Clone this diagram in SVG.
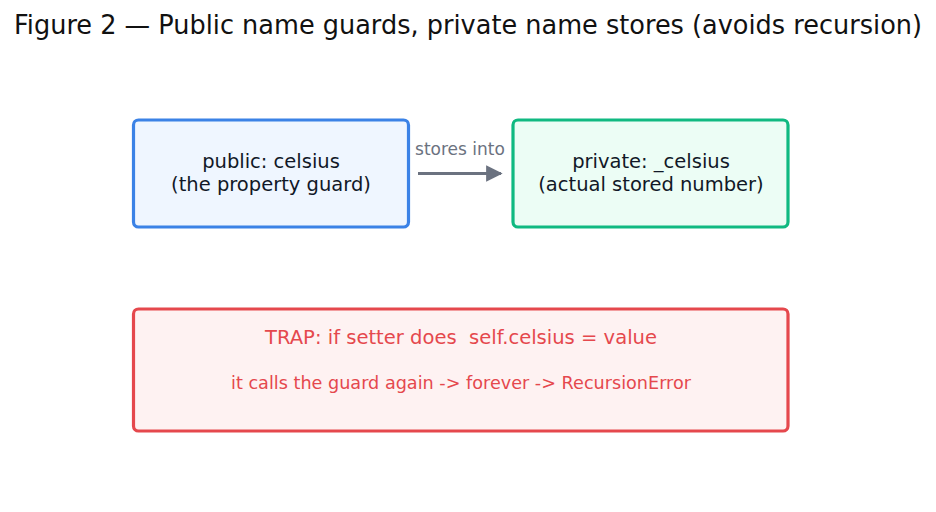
<svg xmlns="http://www.w3.org/2000/svg" width="936" height="512" viewBox="0 0 936 512">
<defs>
<style>
.t{font-family:"DejaVu Sans","Liberation Sans",sans-serif;}
.lbl{font-size:19.5px;fill:#111827;text-anchor:middle;}
.trap{fill:#e5484d;text-anchor:middle;white-space:pre;}
</style>
<marker id="ah" viewBox="0 0 10 10" refX="9" refY="5" markerWidth="5.5" markerHeight="5.5" orient="auto" markerUnits="strokeWidth">
<path d="M0,0 L10,5 L0,10 z" fill="#6b7280"/>
</marker>
</defs>
<rect width="936" height="512" fill="#ffffff"/>
<text class="t" x="468" y="34" font-size="26" fill="#111111" text-anchor="middle" textLength="908" lengthAdjust="spacingAndGlyphs">Figure 2 — Public name guards, private name stores (avoids recursion)</text>
<g id="public">
<rect x="133.5" y="120" width="275" height="107" rx="5" fill="#eff6ff" stroke="#3b82e6" stroke-width="3.2"/>
<text class="t lbl" x="271" y="168">public: celsius</text>
<text class="t lbl" x="271" y="191">(the property guard)</text>
</g>
<g id="private">
<rect x="513" y="120" width="275" height="107" rx="5" fill="#ecfdf5" stroke="#10b981" stroke-width="3.2"/>
<text class="t lbl" x="651" y="168">private: _celsius</text>
<text class="t lbl" x="651" y="191">(actual stored number)</text>
</g>
<g id="trap">
<rect x="133.5" y="309" width="654.5" height="122" rx="5" fill="#fef2f2" stroke="#e5484d" stroke-width="3.2"/>
<text class="t trap" x="461" y="344" font-size="19.5" textLength="392" lengthAdjust="spacingAndGlyphs" xml:space="preserve">TRAP: if setter does  self.celsius = value</text>
<text class="t trap" x="461" y="389" font-size="17.5" textLength="460" lengthAdjust="spacingAndGlyphs">it calls the guard again -&gt; forever -&gt; RecursionError</text>
</g>
<g id="connectors">
<line x1="418" y1="173.5" x2="501" y2="173.5" stroke="#6b7280" stroke-width="3" marker-end="url(#ah)"/>
<text class="t" x="460" y="155" font-size="17" fill="#6b7280" text-anchor="middle">stores into</text>
</g>
</svg>
